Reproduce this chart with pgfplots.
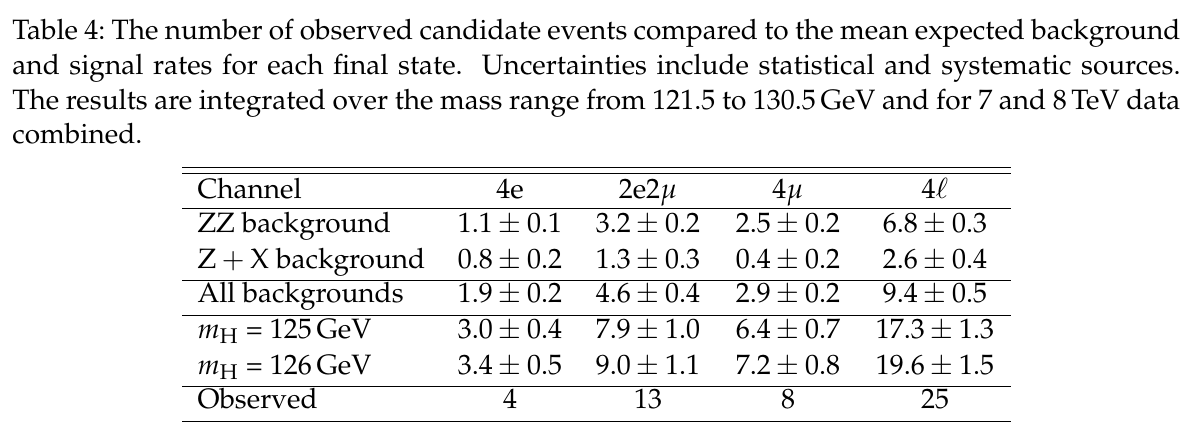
\documentclass[border=0pt]{standalone}
\usepackage[T1]{fontenc}
\usepackage{mathpazo}
\usepackage{pgfplots}
\pgfplotsset{compat=1.18}

% one axis unit = one pixel of the reference, y running down
\newcommand{\capline}[2]{\node[anchor=base west,inner sep=0pt] at (axis cs:12,#1) {\makebox[467.2pt][s]{#2}};}
\newcommand{\lcell}[2]{\node[anchor=base west,inner sep=0pt] at (axis cs:197,#1) {#2};}
\newcommand{\cell}[3]{\node[anchor=base,inner sep=0pt] at (axis cs:#1,#2) {#3};}
\newcommand{\hrul}[1]{\draw[line width=0.4pt] (axis cs:182,#1) -- (axis cs:1011,#1);}

\begin{document}
\frenchspacing
\begin{tikzpicture}[font=\fontsize{11.2}{13.84}\selectfont]
\begin{axis}[hide axis, scale only axis, width=479.2pt, height=178.4pt,
  xmin=0, xmax=1198, ymin=0, ymax=446, y dir=reverse, clip=false]
\path (axis cs:0,0) rectangle (axis cs:1198,446);

% caption
\capline{39.3}{Table 4: The number of observed candidate events compared to the mean expected background}
\capline{74.3}{and signal rates for each final state.\ \ Uncertainties include statistical and systematic sources.}
\capline{109.3}{The results are integrated over the mass range from 121.5 to 130.5\,GeV and for 7 and 8\,TeV data}
\node[anchor=base west,inner sep=0pt] at (axis cs:12,143.5) {combined.};

% rules
\hrul{167.7}\hrul{173.3}\hrul{208.3}\hrul{280}\hrul{315.7}\hrul{386}\hrul{421.7}

% header
\lcell{198.3}{Channel}
\cell{510}{198.3}{4e}
\cell{648}{198.3}{2e2$\mu$}
\cell{788}{198.3}{4$\mu$}
\cell{935}{198.3}{4$\ell$}

% ZZ background
\lcell{232.3}{ZZ background}
\cell{510}{232.3}{$1.1 \pm 0.1$}
\cell{648}{232.3}{$3.2 \pm 0.2$}
\cell{788}{232.3}{$2.5 \pm 0.2$}
\cell{935}{232.3}{$6.8 \pm 0.3$}

% Z+X background
\lcell{268.3}{$\mathrm{Z}+\mathrm{X}$ background}
\cell{510}{268.3}{$0.8 \pm 0.2$}
\cell{648}{268.3}{$1.3 \pm 0.3$}
\cell{788}{268.3}{$0.4 \pm 0.2$}
\cell{935}{268.3}{$2.6 \pm 0.4$}

% all backgrounds
\lcell{302.7}{All backgrounds}
\cell{510}{302.7}{$1.9 \pm 0.2$}
\cell{648}{302.7}{$4.6 \pm 0.4$}
\cell{788}{302.7}{$2.9 \pm 0.2$}
\cell{935}{302.7}{$9.4 \pm 0.5$}

% signal
\lcell{338}{$m_{\mathrm{H}}$ = 125\,GeV}
\cell{510}{338}{$3.0 \pm 0.4$}
\cell{648}{338}{$7.9 \pm 1.0$}
\cell{788}{338}{$6.4 \pm 0.7$}
\cell{935}{338}{$17.3 \pm 1.3$}

\lcell{374}{$m_{\mathrm{H}}$ = 126\,GeV}
\cell{510}{374}{$3.4 \pm 0.5$}
\cell{648}{374}{$9.0 \pm 1.1$}
\cell{788}{374}{$7.2 \pm 0.8$}
\cell{935}{374}{$19.6 \pm 1.5$}

% observed
\lcell{408.3}{Observed}
\cell{510}{408.3}{4}
\cell{648}{408.3}{13}
\cell{788}{408.3}{8}
\cell{935}{408.3}{25}
\end{axis}
\end{tikzpicture}
\end{document}
